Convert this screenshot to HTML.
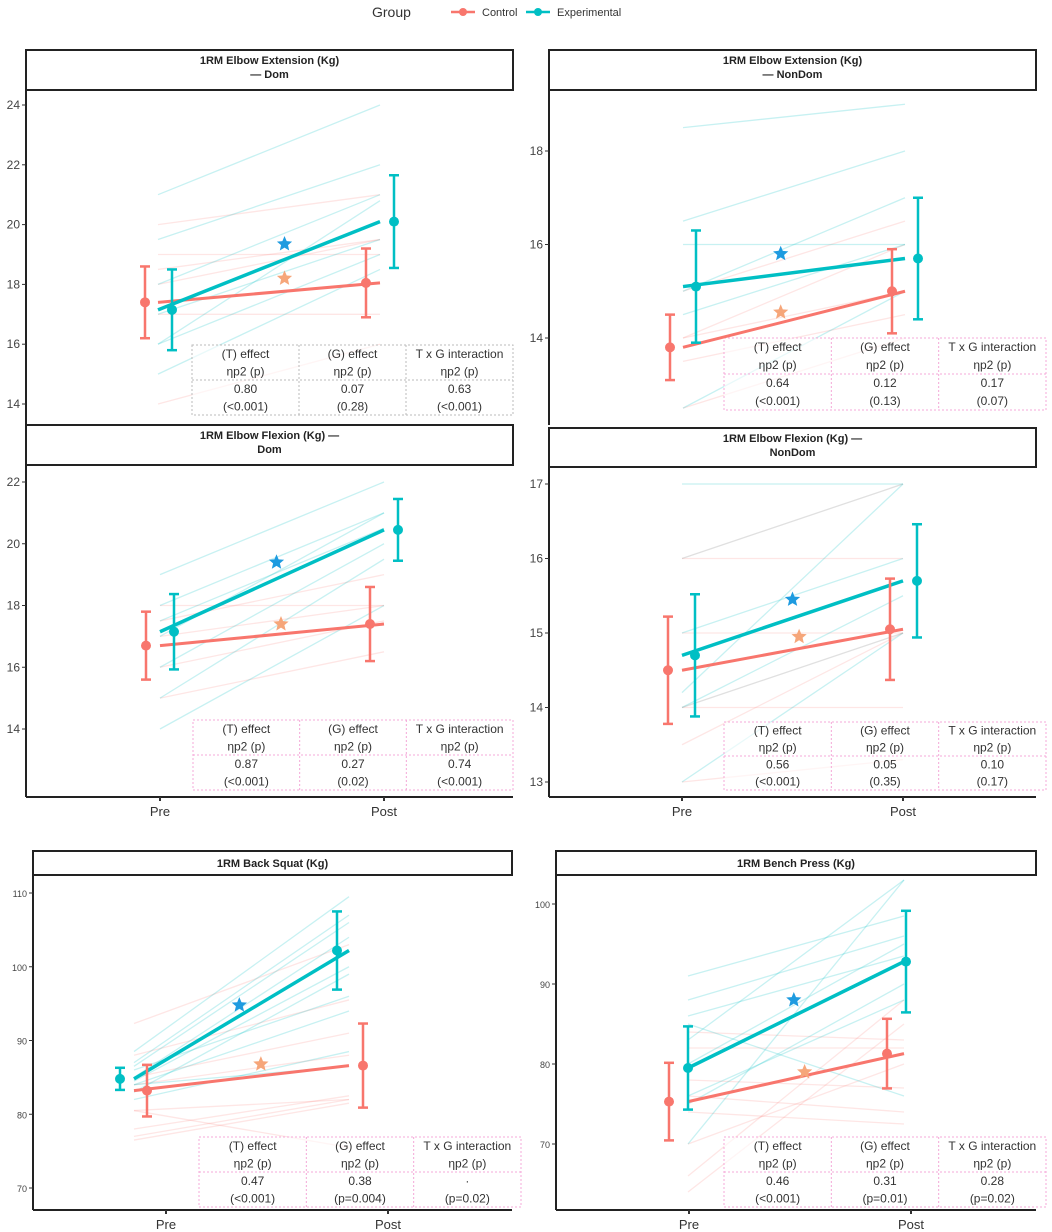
<!DOCTYPE html>
<html><head><meta charset="utf-8"><style>
html,body{margin:0;padding:0;background:#fff;}
svg{display:block;font-family:"Liberation Sans",sans-serif;}
</style></head><body>
<svg id="chart" width="1052" height="1232" viewBox="0 0 1052 1232">
<g>
<text x="372" y="17" font-size="14" fill="#333">Group</text>
<g><line x1="451" y1="12" x2="475" y2="12" stroke="#F8766D" stroke-width="2.5"/><circle cx="463" cy="12" r="4" fill="#F8766D"/><text x="482" y="16" font-size="11" fill="#333">Control</text></g>
<g><line x1="526" y1="12" x2="550" y2="12" stroke="#00BFC4" stroke-width="2.5"/><circle cx="538" cy="12" r="4" fill="#00BFC4"/><text x="557" y="16" font-size="11" fill="#333">Experimental</text></g>
</g>
</svg>
<script>
const titles=[["1RM Elbow Extension (Kg)","— Dom"],["1RM Elbow Extension (Kg)","— NonDom"],["1RM Elbow Flexion (Kg) —","Dom"],["1RM Elbow Flexion (Kg) —","NonDom"],["1RM Back Squat (Kg)"],["1RM Bench Press (Kg)"]];
const tickVals=[[14,16,18,20,22,24],[14,16,18],[14,16,18,20,22],[13,14,15,16,17],[70,80,90,100,110],[70,80,90,100]];
const ctrlPre=[17.4,13.8,16.7,14.5,83.2,75.3];
const ctrlPost=[18.05,15.0,17.4,15.05,86.6,81.3];
const ctrlPreErr=[1.2,0.7,1.1,0.72,3.5,4.85];
const ctrlPostErr=[1.15,0.9,1.2,0.68,5.7,4.35];
const expPre=[17.15,15.1,17.15,14.7,84.8,79.5];
const expPost=[20.1,15.7,20.45,15.7,102.2,92.8];
const expPreErr=[1.35,1.2,1.22,0.82,1.5,5.2];
const expPostErr=[1.55,1.3,1.0,0.76,5.3,6.35];
const starExp=[19.35,15.8,19.4,15.45,94.8,88];
const starCtrl=[18.2,14.55,17.4,14.95,86.8,79];
const expInd=[
[[21,24],[19.5,22],[18,21],[16,20.8],[15,18.5],[16,19],[17,19.5]],
[[18.5,19],[16.5,18],[15,17],[14.5,16],[16,16],[12.5,15]],
[[19,22],[18,21],[17,21],[16,20],[15,19.5],[14,18],[17.5,20.5]],
[[17,17],[15,16],[14.2,17],[13,15],[14,15.5]],
[[88.5,109.5],[87,107],[86.5,106],[85,104],[84.5,100],[83,99],[86,96],[84,94],[82,88.5],[84,86.5]],
[[91,98.5],[88,96],[86,93.5],[83,103],[80,95],[76,88],[70,103],[85,76],[75,90]]];
const ctrlInd=[
[[20,21],[19,19],[18,19.5],[17,17],[14,16],[18.5,19.5]],
[[14,15],[13.5,14.5],[12.5,14],[15,16.5],[14,16]],
[[18,18],[17,18],[16,17.5],[15,16.5],[17.5,19]],
[[16,16],[15,15],[13.5,15],[14,14],[13,13.3]],
[[92.3,103],[88,95.5],[85,91],[84,88],[80.5,82],[78,82.5],[77,82],[76.5,81.5],[80.5,75.5]],
[[84,83],[82,82],[78,77],[76,74],[74,72.5],[66,88],[64,85],[70,80]]];
const grayInd=[[],[],[],[[16,17],[14,15]],[],[]];
const tTop=[["0.80","(<0.001)"],["0.64","(<0.001)"],["0.87","(<0.001)"],["0.56","(<0.001)"],["0.47","(<0.001)"],["0.46","(<0.001)"]];
const gEff=[["0.07","(0.28)"],["0.12","(0.13)"],["0.27","(0.02)"],["0.05","(0.35)"],["0.38","(p=0.004)"],["0.31","(p=0.01)"]];
const txg=[["0.63","(<0.001)"],["0.17","(0.07)"],["0.74","(<0.001)"],["0.10","(0.17)"],["·","(p=0.02)"],["0.28","(p=0.02)"]];

// geometry (layout only)
const G=[
{ax:26,right:513,sy:50,sh:40,bottom:425,xaxis:false,pre:158,post:380,lx:[158,380],cx:[145,366],ex:[172,394],t1:14,p1:404,t2:24,p2:105,tb:[192,345,513,415],tc:"#bbb",sx:[0.57,0.57]},
{ax:549,right:1036,sy:50,sh:40,bottom:425,xaxis:false,pre:683,post:905,lx:[683,905],cx:[670,892],ex:[696,918],t1:14,p1:338,t2:18,p2:151,tb:[724,338,1046,410],tc:"#f4a8d8",sx:[0.44,0.44]},
{ax:26,right:513,sy:425,sh:40,bottom:797,xaxis:true,pre:160,post:384,lx:[160,384],cx:[146,370],ex:[174,398],t1:14,p1:729,t2:22,p2:482,tb:[193,720,513,790],tc:"#f4a8d8",sx:[0.52,0.54]},
{ax:549,right:1036,sy:428,sh:39,bottom:797,xaxis:true,pre:682,post:903,lx:[682,903],cx:[668,890],ex:[695,917],t1:13,p1:782,t2:17,p2:484,tb:[724,722,1046,790],tc:"#f4a8d8",sx:[0.5,0.53]},
{ax:33,right:512,sy:851,sh:24,bottom:1210,xaxis:true,pre:166,post:388,lx:[134,349],cx:[147,363],ex:[120,337],t1:70,p1:1188,t2:110,p2:893,tb:[199,1137,521,1207],tc:"#f4a8d8",sx:[0.49,0.59]},
{ax:556,right:1036,sy:851,sh:24,bottom:1210,xaxis:true,pre:689,post:911,lx:[688,904],cx:[669,887],ex:[688,906],t1:70,p1:1144,t2:100,p2:904,tb:[724,1137,1046,1207],tc:"#f4a8d8",sx:[0.49,0.54]}];

const NS="http://www.w3.org/2000/svg";
const svg=document.getElementById('chart');
function mk(tag,attrs,parent){const e=document.createElementNS(NS,tag);for(const k in attrs)e.setAttribute(k,attrs[k]);(parent||svg).appendChild(e);return e;}
function starPts(cx,cy,R){let p=[];for(let i=0;i<10;i++){const r=i%2?R*0.45:R;const a=-Math.PI/2+i*Math.PI/5;p.push((cx+r*Math.cos(a)).toFixed(1)+","+(cy+r*Math.sin(a)).toFixed(1));}return p.join(" ");}
const CC="#F8766D",EC="#00BFC4";

for(let i=0;i<6;i++){
  const g=G[i];
  const pg=mk('g',{});
  
  
  const top=g.sy+g.sh;
  const y=v=>g.p1+(v-g.t1)*(g.p2-g.p1)/(g.t2-g.t1);
  const x=t=>g.lx[t];
  const cid='clip'+i;
  const cp=mk('clipPath',{id:cid},pg);mk('rect',{x:g.ax,y:top,width:g.right-g.ax+40,height:g.bottom-top},cp);
  const ind=mk('g',{'clip-path':'url(#'+cid+')'},pg);
  
  
  ctrlInd[i].forEach(p=>{const l=mk('line',{x1:x(0),y1:y(p[0]),x2:x(1),y2:y(p[1]),stroke:CC,'stroke-opacity':0.18,'stroke-width':1.3},ind);});
  expInd[i].forEach(p=>{const l=mk('line',{x1:x(0),y1:y(p[0]),x2:x(1),y2:y(p[1]),stroke:EC,'stroke-opacity':0.22,'stroke-width':1.3},ind);});
  grayInd[i].forEach(p=>{const l=mk('line',{x1:x(0),y1:y(p[0]),x2:x(1),y2:y(p[1]),stroke:'#999','stroke-opacity':0.3,'stroke-width':1.3},ind);});
  const [tx1,ty1,tx2,ty2]=g.tb;const tw=(tx2-tx1)/3, tm=(ty1+ty2)/2;
  const tbl=mk('g',{},pg);
  
  
  mk('rect',{x:tx1,y:ty1,width:tx2-tx1,height:ty2-ty1,fill:'rgba(255,255,255,0.6)',stroke:g.tc,'stroke-dasharray':'2,2','stroke-width':1},tbl);
  mk('line',{x1:tx1,y1:tm,x2:tx2,y2:tm,stroke:g.tc,'stroke-dasharray':'2,2'},tbl);
  mk('line',{x1:tx1+tw,y1:ty1,x2:tx1+tw,y2:ty2,stroke:g.tc,'stroke-dasharray':'2,2'},tbl);
  mk('line',{x1:tx1+2*tw,y1:ty1,x2:tx1+2*tw,y2:ty2,stroke:g.tc,'stroke-dasharray':'2,2'},tbl);
  const heads=[["(T) effect","ηp2 (p)"],["(G) effect","ηp2 (p)"],["T x G interaction","ηp2 (p)"]];
  const vals=[tTop[i],gEff[i],txg[i]];
  const rh=(ty2-ty1)/4;
  for(let c=0;c<3;c++){
    const cx=tx1+tw*(c+0.5);
    [heads[c][0],heads[c][1],vals[c][0],vals[c][1]].forEach((s,k)=>{const t=mk('text',{x:cx,y:ty1+rh*(k+0.5)+4,'font-size':12,fill:'#333','text-anchor':'middle'},tbl);t.textContent=s;});
  }
  const ml=mk('line',{x1:x(0),y1:y(ctrlPre[i]),x2:x(1),y2:y(ctrlPost[i]),stroke:CC,'stroke-width':3},pg);
  
  const el=mk('line',{x1:x(0),y1:y(expPre[i]),x2:x(1),y2:y(expPost[i]),stroke:EC,'stroke-width':3.5},pg);
  
  function eb(cx,m,e,col,name){
    const gg=mk('g',{},pg);
    
    
    mk('line',{x1:cx,y1:y(m-e),x2:cx,y2:y(m+e),stroke:col,'stroke-width':2.5},gg);
    mk('line',{x1:cx-5,y1:y(m-e),x2:cx+5,y2:y(m-e),stroke:col,'stroke-width':2.5},gg);
    mk('line',{x1:cx-5,y1:y(m+e),x2:cx+5,y2:y(m+e),stroke:col,'stroke-width':2.5},gg);
    mk('circle',{cx:cx,cy:y(m),r:5,fill:col},gg);
  }
  eb(g.cx[0],ctrlPre[i],ctrlPreErr[i],CC,'control-pre-point');
  eb(g.cx[1],ctrlPost[i],ctrlPostErr[i],CC,'control-post-point');
  eb(g.ex[0],expPre[i],expPreErr[i],EC,'experimental-pre-point');
  eb(g.ex[1],expPost[i],expPostErr[i],EC,'experimental-post-point');
  const s1=mk('polygon',{points:starPts(g.lx[0]+(g.lx[1]-g.lx[0])*g.sx[0],y(starExp[i]),8),fill:'#1E9BE0'},pg);
  
  const s2=mk('polygon',{points:starPts(g.lx[0]+(g.lx[1]-g.lx[0])*g.sx[1],y(starCtrl[i]),8),fill:'#F6A67A'},pg);
  
  const ya=mk('line',{x1:g.ax,y1:top,x2:g.ax,y2:g.bottom,stroke:'#222','stroke-width':2},pg);
  
  tickVals[i].forEach(v=>{mk('line',{x1:g.ax-4,y1:y(v),x2:g.ax,y2:y(v),stroke:'#333','stroke-width':1},pg);
    const t=mk('text',{x:g.ax-6,y:y(v)+4,'font-size':g.t2>50?9:12,fill:'#444','text-anchor':'end'},pg);t.textContent=v;});
  if(g.xaxis){
    const xa=mk('line',{x1:g.ax,y1:g.bottom,x2:g.right,y2:g.bottom,stroke:'#222','stroke-width':2},pg);
    
    [["Pre",g.pre],["Post",g.post]].forEach(([s,px])=>{mk('line',{x1:px,y1:g.bottom,x2:px,y2:g.bottom+4,stroke:'#333','stroke-width':2},pg);
      const t=mk('text',{x:px,y:g.bottom+19,'font-size':13,fill:'#333','text-anchor':'middle'},pg);t.textContent=s;});
  }
  const st=mk('g',{},pg);
  
  
  mk('rect',{x:g.ax,y:g.sy,width:g.right-g.ax,height:g.sh,fill:'#fff',stroke:'#222','stroke-width':2},st);
  const lines=titles[i];
  lines.forEach((s,k)=>{const t=mk('text',{x:(g.ax+g.right)/2,y:g.sy+(lines.length==1?g.sh/2+4:14+k*14),'font-size':11,'font-weight':'bold',fill:'#222','text-anchor':'middle'},st);t.textContent=s;});
}
</script>
</body></html>
